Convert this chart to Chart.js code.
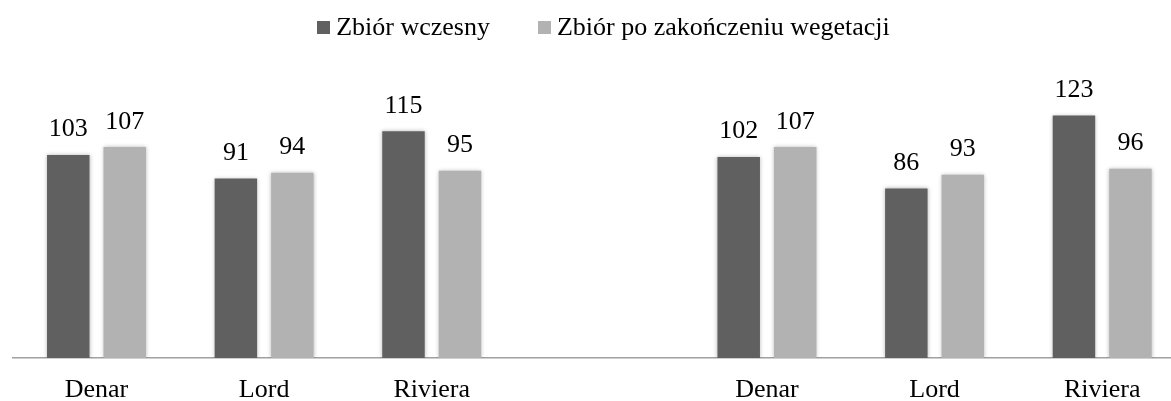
<!DOCTYPE html>
<html lang="pl">
<head>
<meta charset="utf-8">
<title>Zbiór wczesny / po zakończeniu wegetacji</title>
<script src="https://cdn.jsdelivr.net/npm/chart.js@4/dist/chart.umd.min.js"></script>
<style>
  html, body { margin: 0; padding: 0; background: #fff; overflow: hidden; }
  #wrap { position: relative; width: 1186px; height: 430px; }
  #legend {
    position: absolute; top: 12px; left: 0; width: 1207px;
    display: flex; justify-content: center; align-items: center;
    font: 26px "Liberation Serif", "Times New Roman", serif; color: #000;
    line-height: 30px;
  }
  .leg-item { display: flex; align-items: center; margin: 0 24px; }
  .leg-box { width: 13px; height: 13px; margin-right: 6px; }
</style>
</head>
<body>
<div id="wrap">
  <canvas id="chart" width="1186" height="430"></canvas>
  <div id="legend"></div>
</div>
<script>
// Dane
const categories = ['Denar', 'Lord', 'Riviera', '', 'Denar', 'Lord', 'Riviera'];
const seriesNames = ['Zbiór wczesny', 'Zbiór po zakończeniu wegetacji'];
const earlyHarvest = [103, 91, 115, null, 102, 86, 123];
const lateHarvest = [107, 94, 95, null, 107, 93, 96];
const seriesColors = ['#606060', '#b2b2b2'];

const FONT = '"Liberation Serif", "Times New Roman", serif';

// Cień wokół słupków
const barShadow = {
  id: 'barShadow',
  beforeDatasetsDraw(chart) {
    const ctx = chart.ctx;
    ctx.save();
    ctx.shadowColor = 'rgba(0, 0, 0, 0.28)';
    ctx.shadowBlur = 4;
  },
  afterDatasetsDraw(chart) {
    chart.ctx.restore();
  },
};

// Etykiety wartości nad słupkami
const valueLabels = {
  id: 'valueLabels',
  afterDatasetsDraw(chart) {
    const ctx = chart.ctx;
    ctx.save();
    ctx.font = `26px ${FONT}`;
    ctx.fillStyle = '#000';
    ctx.textAlign = 'center';
    ctx.textBaseline = 'alphabetic';
    chart.data.datasets.forEach((ds, i) => {
      chart.getDatasetMeta(i).data.forEach((bar, j) => {
        const v = ds.data[j];
        if (v === null || v === undefined) return;
        ctx.fillText(String(v), bar.x, bar.y - 18.5);
      });
    });
    ctx.restore();
  },
};

const chart = new Chart(document.getElementById('chart'), {
  type: 'bar',
  data: {
    labels: categories,
    datasets: [
      {
        label: seriesNames[0],
        data: earlyHarvest,
        backgroundColor: seriesColors[0],
        categoryPercentage: 0.674,
        barPercentage: 0.752,
      },
      {
        label: seriesNames[1],
        data: lateHarvest,
        backgroundColor: seriesColors[1],
        categoryPercentage: 0.674,
        barPercentage: 0.752,
      },
    ],
  },
  options: {
    responsive: false,
    animation: false,
    layout: { padding: { top: 82, left: 12.7, right: 0, bottom: 15 } },
    plugins: {
      legend: { display: false },
      tooltip: { enabled: false },
    },
    scales: {
      x: {
        grid: { display: false },
        border: { display: true, color: '#a0a0a0', width: 1.5 },
        ticks: {
          color: '#000',
          padding: 11.5,
          font: { family: FONT, size: 26, lineHeight: 1 },
        },
      },
      y: {
        display: false,
        min: 0,
        max: 140,
      },
    },
  },
  plugins: [barShadow, valueLabels],
});

// Legenda HTML
const legend = document.getElementById('legend');
legend.innerHTML = chart.data.datasets.map(ds => `
  <span class="leg-item">
    <span class="leg-box" style="background:${ds.backgroundColor}"></span>
    <span>${ds.label}</span>
  </span>`).join('');
</script>
</body>
</html>
